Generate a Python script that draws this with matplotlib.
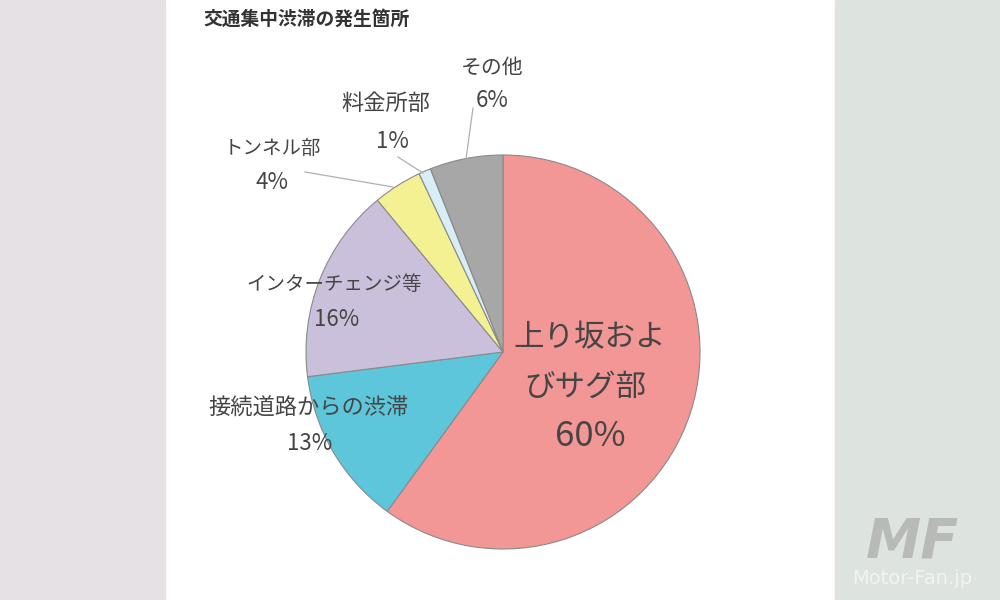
import matplotlib
matplotlib.use("Agg")
import matplotlib.pyplot as plt
from matplotlib.patches import Rectangle

plt.rcParams['font.family'] = ['Noto Sans CJK JP', 'DejaVu Sans']

title = "交通集中渋滞の発生箇所"
categories = ["上り坂およ\nびサグ部", "接続道路からの渋滞", "インターチェンジ等", "トンネル部", "料金所部", "その他"]
values = [60, 13, 16, 4, 1, 6]
colors = ["#f29696", "#5ec6da", "#cac0dc", "#f3f192", "#d8eef6", "#a7a7a7"]

fig = plt.figure(figsize=(10, 6), dpi=100)
fig.patch.set_facecolor("white")
# side panels
fig.add_artist(Rectangle((0, 0), 0.165, 1, transform=fig.transFigure, color="#e6e1e4", zorder=0))
fig.add_artist(Rectangle((0.835, 0), 0.165, 1, transform=fig.transFigure, color="#dde3df", zorder=0))

# pie axes: center (503,352) px, radius 197 px
cx, cy, R = 503, 352, 197.0
half = 250
ax = fig.add_axes([(cx - half) / 1000, (600 - cy - half) / 600, 2 * half / 1000, 2 * half / 600])

ax.pie(values, colors=colors, startangle=90, counterclock=False, radius=1.0,
       wedgeprops=dict(edgecolor="#8a8a8a", linewidth=0.8))
ax.set_xlim(-half / R, half / R)
ax.set_ylim(-half / R, half / R)
ax.set_aspect("equal")
ax.axis("off")

def d(px, py):
    return (px - cx) / R, (cy - py) / R

tc = "#454545"
# main label
for txt, (px, py), fs in zip(["上り坂およ", "びサグ部", f"{values[0]}%"],
                             [(590, 338), (585, 387), (590, 437)], [22, 22, 25]):
    ax.text(*d(px, py), txt, fontsize=fs, color=tc, ha="center", va="center")

small = [
    (categories[1], f"{values[1]}%", (309, 408), (310, 443), 16),
    (categories[2], f"{values[2]}%", (334, 285), (337, 320), 14),
    (categories[3], f"{values[3]}%", (272, 148), (272, 183), 14),
    (categories[4], f"{values[4]}%", (386, 103), (392, 142), 16),
    (categories[5], f"{values[5]}%", (492, 68), (492, 101), 15),
]
for name, pct, p1, p2, fs in small:
    ax.text(*d(*p1), name, fontsize=fs, color=tc, ha="center", va="center")
    ax.text(*d(*p2), pct, fontsize=16, color=tc, ha="center", va="center")

# leader lines
leaders = [((393, 187), (305, 172)), ((423, 173), (398, 157)), ((466, 159), (473, 108))]
for a, b in leaders:
    xa, ya = d(*a)
    xb, yb = d(*b)
    ax.plot([xa, xb], [ya, yb], color="#b0b0b0", linewidth=0.9)

fig.text(0.203, 1 - 19 / 600, title, fontsize=13.5, fontweight="bold", color="#333333", ha="left", va="center")

# watermark
fig.text(0.912, 1 - 578 / 600, "Motor-Fan.jp", fontsize=14, color="#f2f4f2", ha="center", va="center",
         family="DejaVu Sans")
fig.text(0.912, 1 - 543 / 600, "MF", fontsize=40, color="#b8bab8", ha="center", va="center",
         fontweight="bold", style="italic", family="DejaVu Sans")

fig.savefig("out.png", dpi=100)
